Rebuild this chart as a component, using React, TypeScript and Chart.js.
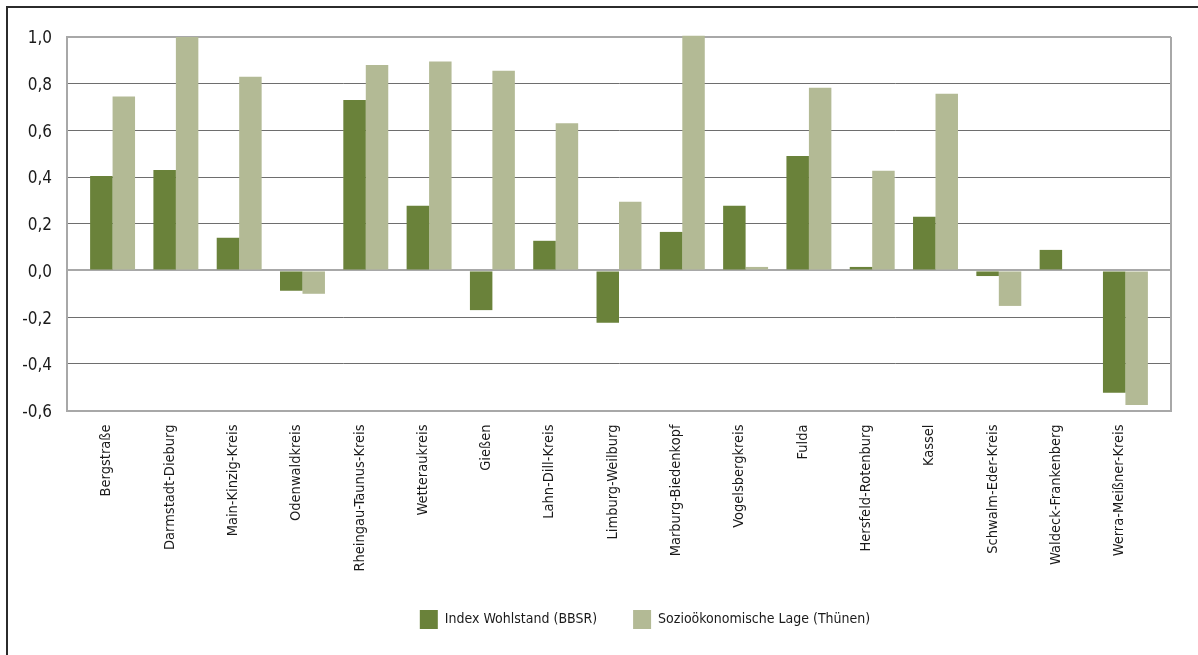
import { useEffect, useRef } from 'react';
import { Chart, registerables } from 'chart.js';

Chart.register(...registerables);

const categories = [
  'Bergstraße',
  'Darmstadt-Dieburg',
  'Main-Kinzig-Kreis',
  'Odenwaldkreis',
  'Rheingau-Taunus-Kreis',
  'Wetteraukreis',
  'Gießen',
  'Lahn-Dill-Kreis',
  'Limburg-Weilburg',
  'Marburg-Biedenkopf',
  'Vogelsbergkreis',
  'Fulda',
  'Hersfeld-Rotenburg',
  'Kassel',
  'Schwalm-Eder-Kreis',
  'Waldeck-Frankenberg',
  'Werra-Meißner-Kreis',
];

const wohlstand = [0.405, 0.43, 0.14, -0.087, 0.73, 0.277, -0.17, 0.127, -0.224, 0.165, 0.277, 0.49, 0.015, 0.23, -0.024, 0.088, -0.524];
const thuenen = [0.745, 1.0, 0.83, -0.1, 0.88, 0.895, 0.855, 0.63, 0.294, 1.005, 0.015, 0.783, 0.427, 0.757, -0.152, null, -0.576];

const seriesNames = ['Index Wohlstand (BBSR)', 'Sozioökonomische Lage (Thünen)'];
const yMin = -0.6;
const yMax = 1.0;
const yStep = 0.2;

const FONT = "'DejaVu Sans Condensed', 'DejaVu Sans', sans-serif";

export default function App() {
  const ref = useRef<HTMLCanvasElement | null>(null);

  useEffect(() => {
    if (!ref.current) return;
    const framePlugin = {
      id: 'frame',
      afterLayout(chart: any) {
        const lg = chart.legend;
        if (lg) {
          const d = 645 - (lg.left + lg.right) / 2;
          lg.left += d;
          lg.right += d;
        }
      },
      afterDraw(chart: any) {
        const { ctx, chartArea } = chart;
        ctx.save();
        ctx.strokeStyle = '#a8a8a8';
        ctx.lineWidth = 2;
        ctx.beginPath();
        ctx.moveTo(chartArea.right, chartArea.top);
        ctx.lineTo(chartArea.right, chartArea.bottom);
        ctx.stroke();
        ctx.restore();
      },
    };

    const chart = new Chart(ref.current, {
      type: 'bar',
      data: {
        datasets: [
          {
            label: seriesNames[0],
            data: wohlstand.map((v, i) => ({ x: i, y: v })),
            backgroundColor: '#6a823a',
            borderWidth: 0,
            clip: false as any,
          },
          {
            label: seriesNames[1],
            data: thuenen.map((v, i) => ({ x: i, y: v })),
            backgroundColor: '#b3ba95',
            borderWidth: 0,
            clip: false as any,
          },
        ],
      },
      options: {
        responsive: false,
        animation: false,
        datasets: { bar: { categoryPercentage: 0.71, barPercentage: 1 } },
        layout: { padding: { top: 37, left: 0, right: 27, bottom: 16 } },
        scales: {
          x: {
            type: 'linear',
            offset: false,
            min: -0.72,
            max: categories.length - 1 + 0.72,
            afterBuildTicks: (scale: any) => {
              scale.ticks = categories.map((_, i) => ({ value: i }));
            },
            afterFit: (scale: any) => {
              scale.height = 163.5;
            },
            grid: { display: false, drawTicks: false },
            border: { display: true, color: '#a8a8a8', width: 2 },
            ticks: {
              autoSkip: false,
              maxRotation: 90,
              minRotation: 90,
              padding: 14,
              labelOffset: -6,
              color: '#1a1a1a',
              font: { family: FONT, size: 14.5 },
              callback: (v: any) => categories[Math.round(Number(v))] ?? '',
            },
          },
          y: {
            min: yMin,
            max: yMax,
            afterFit: (scale: any) => {
              scale.width = 67;
            },
            ticks: {
              stepSize: yStep,
              padding: 15,
              labelOffset: 2,
              color: '#1a1a1a',
              font: { family: FONT, size: 17 },
              callback: (v: any) => {
                const n = Number(v);
                if (Math.abs(n) < 1e-9) return '0,0';
                return n.toFixed(1).replace('.', ',');
              },
            },
            grid: {
              drawTicks: false,
              color: (c: any) => {
                const v = c.tick ? c.tick.value : 0;
                return Math.abs(v) < 1e-9 || Math.abs(v - 1) < 1e-9 ? '#a8a8a8' : '#6e6e6e';
              },
              lineWidth: (c: any) => {
                const v = c.tick ? c.tick.value : 0;
                return Math.abs(v) < 1e-9 || Math.abs(v - 1) < 1e-9 ? 2 : 1;
              },
            },
            border: { display: true, color: '#a8a8a8', width: 2 },
          },
        },
        plugins: {
          legend: {
            position: 'bottom',
            labels: {
              boxWidth: 18,
              boxHeight: 19,
              padding: 36,
              color: '#1a1a1a',
              font: { family: FONT, size: 14 },
            },
          },
          tooltip: { enabled: false },
        },
      },
      plugins: [framePlugin],
    } as any);
    return () => chart.destroy();
  }, []);

  return (
    <div style={{ position: 'absolute', left: 0, top: 0, width: 1198, height: 655, background: '#fff' }}>
      <div
        style={{
          position: 'absolute',
          left: 6,
          top: 6,
          right: 0,
          bottom: 0,
          borderTop: '2px solid #2b2b2b',
          borderLeft: '2px solid #2b2b2b',
        }}
      />
      <canvas ref={ref} width={1198} height={655} style={{ position: 'absolute', left: 0, top: 0 }} />
    </div>
  );
}
